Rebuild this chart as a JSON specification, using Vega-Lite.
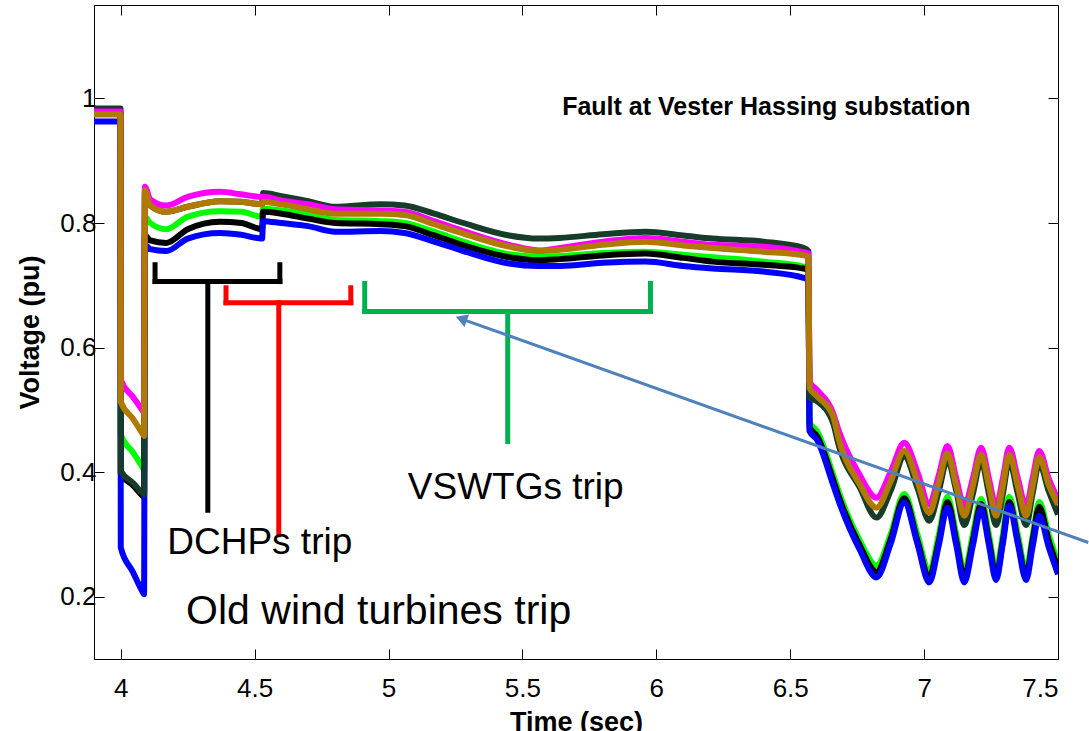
{
  "$schema": "https://vega.github.io/schema/vega-lite/v6.json",
  "width": 964,
  "height": 654,
  "autosize": {"type": "none"},
  "padding": {"left": 94, "top": 5, "right": 31, "bottom": 72},
  "background": "white",
  "config": {
    "view": {"stroke": "black", "strokeWidth": 1},
    "font": "Liberation Sans",
    "axis": {
      "grid": false,
      "domainColor": "black",
      "tickColor": "black",
      "labelColor": "black",
      "titleColor": "black",
      "labelFont": "Liberation Sans",
      "titleFont": "Liberation Sans",
      "labelFontSize": 26,
      "titleFontSize": 27,
      "titleFontWeight": "bold",
      "tickSize": -10,
      "tickWidth": 1
    }
  },
  "datasets": {
    "volt": [
      {"t": 3.9, "gr": 0.976, "bk": 0.977, "bl": 0.963, "dg": 0.984, "mg": 0.979, "br": 0.974},
      {"t": 3.999, "gr": 0.976, "bk": 0.977, "bl": 0.963, "dg": 0.984, "mg": 0.979, "br": 0.974},
      {"t": 4.0, "gr": 0.46, "bk": 0.398, "bl": 0.279, "dg": 0.402, "mg": 0.548, "br": 0.513},
      {"t": 4.045, "gr": 0.432, "bk": 0.379, "bl": 0.24, "dg": 0.383, "mg": 0.521, "br": 0.486},
      {"t": 4.084, "gr": 0.406, "bk": 0.361, "bl": 0.206, "dg": 0.365, "mg": 0.497, "br": 0.46},
      {"t": 4.087, "gr": 0.404, "bk": 0.36, "bl": 0.204, "dg": 0.364, "mg": 0.495, "br": 0.458},
      {"t": 4.09, "gr": 0.81, "bk": 0.78, "bl": 0.765, "dg": 0.85, "mg": 0.858, "br": 0.852},
      {"t": 4.11, "gr": 0.8, "bk": 0.772, "bl": 0.758, "dg": 0.828, "mg": 0.838, "br": 0.828},
      {"t": 4.17, "gr": 0.79, "bk": 0.768, "bl": 0.755, "dg": 0.818, "mg": 0.828, "br": 0.818},
      {"t": 4.25, "gr": 0.81, "bk": 0.79, "bl": 0.775, "dg": 0.826, "mg": 0.842, "br": 0.826},
      {"t": 4.37, "gr": 0.819, "bk": 0.802, "bl": 0.784, "dg": 0.835, "mg": 0.85, "br": 0.835},
      {"t": 4.45, "gr": 0.818, "bk": 0.8, "bl": 0.781, "dg": 0.834, "mg": 0.846, "br": 0.834},
      {"t": 4.528, "gr": 0.81, "bk": 0.79, "bl": 0.775, "dg": 0.83, "mg": 0.842, "br": 0.83},
      {"t": 4.531, "gr": 0.823, "bk": 0.818, "bl": 0.803, "dg": 0.848, "mg": 0.842, "br": 0.834},
      {"t": 4.6, "gr": 0.82, "bk": 0.815, "bl": 0.8, "dg": 0.843, "mg": 0.836, "br": 0.83},
      {"t": 4.7, "gr": 0.813, "bk": 0.807, "bl": 0.795, "dg": 0.835, "mg": 0.83, "br": 0.822},
      {"t": 4.8, "gr": 0.805, "bk": 0.8, "bl": 0.786, "dg": 0.826, "mg": 0.822, "br": 0.815},
      {"t": 4.97, "gr": 0.803, "bk": 0.798, "bl": 0.787, "dg": 0.83, "mg": 0.82, "br": 0.815},
      {"t": 5.06, "gr": 0.8, "bk": 0.795, "bl": 0.784, "dg": 0.828, "mg": 0.818, "br": 0.813},
      {"t": 5.17, "gr": 0.786, "bk": 0.78, "bl": 0.77, "dg": 0.815, "mg": 0.803, "br": 0.798},
      {"t": 5.28, "gr": 0.77, "bk": 0.764, "bl": 0.755, "dg": 0.8, "mg": 0.787, "br": 0.783},
      {"t": 5.45, "gr": 0.75, "bk": 0.745, "bl": 0.735, "dg": 0.78, "mg": 0.765, "br": 0.762},
      {"t": 5.56, "gr": 0.746, "bk": 0.74, "bl": 0.731, "dg": 0.775, "mg": 0.756, "br": 0.755},
      {"t": 5.64, "gr": 0.747, "bk": 0.742, "bl": 0.731, "dg": 0.776, "mg": 0.76, "br": 0.757},
      {"t": 5.8, "gr": 0.752, "bk": 0.748, "bl": 0.736, "dg": 0.782, "mg": 0.77, "br": 0.765},
      {"t": 5.96, "gr": 0.754, "bk": 0.751, "bl": 0.738, "dg": 0.786, "mg": 0.776, "br": 0.77},
      {"t": 6.1, "gr": 0.749, "bk": 0.744, "bl": 0.731, "dg": 0.78, "mg": 0.77, "br": 0.764},
      {"t": 6.21, "gr": 0.745, "bk": 0.738, "bl": 0.727, "dg": 0.775, "mg": 0.765, "br": 0.76},
      {"t": 6.4, "gr": 0.738, "bk": 0.733, "bl": 0.722, "dg": 0.77, "mg": 0.762, "br": 0.754},
      {"t": 6.55, "gr": 0.73, "bk": 0.727, "bl": 0.712, "dg": 0.76, "mg": 0.753, "br": 0.748},
      {"t": 6.568, "gr": 0.727, "bk": 0.724, "bl": 0.708, "dg": 0.755, "mg": 0.751, "br": 0.746},
      {"t": 6.572, "gr": 0.48, "bk": 0.472, "bl": 0.466, "dg": 0.52, "mg": 0.545, "br": 0.535},
      {"t": 6.6, "gr": 0.466, "bk": 0.458, "bl": 0.452, "dg": 0.514, "mg": 0.532, "br": 0.522},
      {"t": 6.66, "gr": 0.396, "bk": 0.388, "bl": 0.38, "dg": 0.479, "mg": 0.495, "br": 0.49},
      {"t": 6.68, "gr": 0.37, "bk": 0.362, "bl": 0.355, "dg": 0.445, "mg": 0.468, "br": 0.455},
      {"t": 6.76, "gr": 0.29, "bk": 0.282, "bl": 0.275, "dg": 0.375, "mg": 0.395, "br": 0.38},
      {"t": 6.822, "gr": 0.25, "bk": 0.24, "bl": 0.231, "dg": 0.327, "mg": 0.359, "br": 0.343},
      {"t": 6.875, "gr": 0.3, "bk": 0.292, "bl": 0.285, "dg": 0.37, "mg": 0.4, "br": 0.385},
      {"t": 6.926, "gr": 0.365, "bk": 0.358, "bl": 0.351, "dg": 0.425, "mg": 0.447, "br": 0.434},
      {"t": 6.975, "gr": 0.3, "bk": 0.29, "bl": 0.285, "dg": 0.375, "mg": 0.4, "br": 0.385},
      {"t": 7.019, "gr": 0.24, "bk": 0.232, "bl": 0.223, "dg": 0.322, "mg": 0.348, "br": 0.335},
      {"t": 7.055, "gr": 0.3, "bk": 0.29, "bl": 0.283, "dg": 0.37, "mg": 0.395, "br": 0.383},
      {"t": 7.087, "gr": 0.36, "bk": 0.352, "bl": 0.343, "dg": 0.42, "mg": 0.442, "br": 0.43},
      {"t": 7.12, "gr": 0.3, "bk": 0.29, "bl": 0.283, "dg": 0.37, "mg": 0.39, "br": 0.378},
      {"t": 7.15, "gr": 0.24, "bk": 0.232, "bl": 0.223, "dg": 0.315, "mg": 0.345, "br": 0.33},
      {"t": 7.182, "gr": 0.3, "bk": 0.29, "bl": 0.282, "dg": 0.365, "mg": 0.39, "br": 0.378},
      {"t": 7.213, "gr": 0.357, "bk": 0.349, "bl": 0.34, "dg": 0.418, "mg": 0.439, "br": 0.428},
      {"t": 7.242, "gr": 0.3, "bk": 0.29, "bl": 0.283, "dg": 0.365, "mg": 0.39, "br": 0.378},
      {"t": 7.269, "gr": 0.242, "bk": 0.234, "bl": 0.227, "dg": 0.315, "mg": 0.345, "br": 0.33},
      {"t": 7.294, "gr": 0.3, "bk": 0.29, "bl": 0.285, "dg": 0.365, "mg": 0.39, "br": 0.378},
      {"t": 7.318, "gr": 0.36, "bk": 0.352, "bl": 0.346, "dg": 0.418, "mg": 0.439, "br": 0.428},
      {"t": 7.35, "gr": 0.3, "bk": 0.29, "bl": 0.285, "dg": 0.365, "mg": 0.39, "br": 0.378},
      {"t": 7.381, "gr": 0.242, "bk": 0.234, "bl": 0.227, "dg": 0.315, "mg": 0.345, "br": 0.33},
      {"t": 7.405, "gr": 0.297, "bk": 0.29, "bl": 0.28, "dg": 0.365, "mg": 0.39, "br": 0.377},
      {"t": 7.43, "gr": 0.352, "bk": 0.344, "bl": 0.33, "dg": 0.414, "mg": 0.434, "br": 0.424},
      {"t": 7.465, "gr": 0.3, "bk": 0.29, "bl": 0.28, "dg": 0.37, "mg": 0.39, "br": 0.38},
      {"t": 7.5, "gr": 0.255, "bk": 0.245, "bl": 0.236, "dg": 0.332, "mg": 0.356, "br": 0.348}
    ],
    "brackets": [
      {"b": "DCHP", "x": 4.128, "x2": 4.594, "y": 0.706, "y2": 0.706},
      {"b": "DCHP", "x": 4.128, "x2": 4.128, "y": 0.706, "y2": 0.733},
      {"b": "DCHP", "x": 4.594, "x2": 4.594, "y": 0.706, "y2": 0.733},
      {"b": "DCHP", "x": 4.325, "x2": 4.325, "y": 0.706, "y2": 0.339},
      {"b": "Old", "x": 4.393, "x2": 4.859, "y": 0.672, "y2": 0.672},
      {"b": "Old", "x": 4.393, "x2": 4.393, "y": 0.672, "y2": 0.696},
      {"b": "Old", "x": 4.859, "x2": 4.859, "y": 0.672, "y2": 0.696},
      {"b": "Old", "x": 4.59, "x2": 4.59, "y": 0.672, "y2": 0.2995},
      {"b": "VSWTG", "x": 4.911, "x2": 5.978, "y": 0.658, "y2": 0.658},
      {"b": "VSWTG", "x": 4.911, "x2": 4.911, "y": 0.658, "y2": 0.703},
      {"b": "VSWTG", "x": 5.978, "x2": 5.978, "y": 0.658, "y2": 0.703},
      {"b": "VSWTG", "x": 5.445, "x2": 5.445, "y": 0.658, "y2": 0.449}
    ],
    "arrow": [
      {"x": 7.613, "x2": 5.2716, "y": 0.287, "y2": 0.6462}
    ],
    "labels": [
      {"x": 4.519, "y": 0.287, "label": "DCHPs trip"},
      {"x": 5.475, "y": 0.375, "label": "VSWTGs trip"}
    ],
    "labels2": [
      {"x": 4.963, "y": 0.176, "label": "Old wind turbines trip"}
    ],
    "heading": [
      {"x": 6.411, "y": 0.987, "label": "Fault at Vester Hassing substation"}
    ]
  },
  "resolve": {"scale": {"color": "independent"}},
  "layer": [
    {
      "data": {"name": "volt"},
      "transform": [{"fold": ["gr", "bk", "bl", "dg", "mg", "br"], "as": ["series", "v"]}],
      "mark": {"type": "line", "strokeWidth": 6, "interpolate": "monotone", "strokeJoin": "round", "clip": true},
      "encoding": {
        "x": {
          "field": "t", "type": "quantitative",
          "scale": {"domain": [3.9, 7.5], "nice": false, "zero": false},
          "axis": {"orient": "bottom", "values": [4, 4.5, 5, 5.5, 6, 6.5, 7, 7.5], "format": "~g", "title": "Time (sec)", "labelPadding": 26, "titlePadding": 8}
        },
        "y": {
          "field": "v", "type": "quantitative",
          "scale": {"domain": [0.1, 1.15], "nice": false, "zero": false},
          "axis": {"orient": "left", "values": [0.2, 0.4, 0.6, 0.8, 1], "format": "~g", "title": "Voltage (pu)", "labelPadding": 8, "titlePadding": 15}
        },
        "color": {
          "field": "series", "type": "nominal",
          "scale": {"domain": ["gr", "bk", "bl", "dg", "mg", "br"], "range": ["#00FF00", "#000000", "#0000FF", "#173D2A", "#FF00FF", "#B07A00"]},
          "legend": null
        }
      }
    },
    {
      "data": {"name": "volt"},
      "mark": {"type": "point", "opacity": 0},
      "encoding": {
        "x": {"field": "t", "type": "quantitative", "axis": {"orient": "top", "values": [4, 4.5, 5, 5.5, 6, 6.5, 7, 7.5], "labels": false, "title": null, "domain": false}},
        "y": {"field": "dg", "type": "quantitative", "axis": {"orient": "right", "values": [0.2, 0.4, 0.6, 0.8, 1], "labels": false, "title": null, "domain": false}}
      }
    },
    {
      "data": {"name": "brackets"},
      "mark": {"type": "rule", "strokeWidth": 5, "strokeCap": "square"},
      "encoding": {
        "x": {"field": "x", "type": "quantitative", "axis": null},
        "x2": {"field": "x2"},
        "y": {"field": "y", "type": "quantitative", "axis": null},
        "y2": {"field": "y2"},
        "color": {
          "field": "b", "type": "nominal",
          "scale": {"domain": ["DCHP", "Old", "VSWTG"], "range": ["#000000", "#FF0000", "#00B050"]},
          "legend": null
        }
      }
    },
    {
      "data": {"name": "arrow"},
      "mark": {"type": "rule", "strokeWidth": 3, "color": "#4F81BD", "clip": false},
      "encoding": {
        "x": {"field": "x", "type": "quantitative", "axis": null},
        "x2": {"field": "x2"},
        "y": {"field": "y", "type": "quantitative", "axis": null},
        "y2": {"field": "y2"}
      }
    },
    {
      "data": {"name": "arrow"},
      "mark": {"type": "point", "shape": "triangle-up", "filled": true, "size": 180, "angle": 290, "color": "#4F81BD", "opacity": 1},
      "encoding": {
        "x": {"field": "x2", "type": "quantitative", "axis": null},
        "y": {"field": "y2", "type": "quantitative", "axis": null}
      }
    },
    {
      "data": {"name": "labels"},
      "mark": {"type": "text", "font": "Liberation Sans", "fontSize": 37, "color": "black", "align": "center", "baseline": "middle"},
      "encoding": {
        "x": {"field": "x", "type": "quantitative", "axis": null},
        "y": {"field": "y", "type": "quantitative", "axis": null},
        "text": {"field": "label"}
      }
    },
    {
      "data": {"name": "labels2"},
      "mark": {"type": "text", "font": "Liberation Sans", "fontSize": 41, "color": "black", "align": "center", "baseline": "middle"},
      "encoding": {
        "x": {"field": "x", "type": "quantitative", "axis": null},
        "y": {"field": "y", "type": "quantitative", "axis": null},
        "text": {"field": "label"}
      }
    },
    {
      "data": {"name": "heading"},
      "mark": {"type": "text", "font": "Liberation Sans", "fontSize": 25, "fontWeight": "bold", "color": "black", "align": "center", "baseline": "middle"},
      "encoding": {
        "x": {"field": "x", "type": "quantitative", "axis": null},
        "y": {"field": "y", "type": "quantitative", "axis": null},
        "text": {"field": "label"}
      }
    }
  ]
}
